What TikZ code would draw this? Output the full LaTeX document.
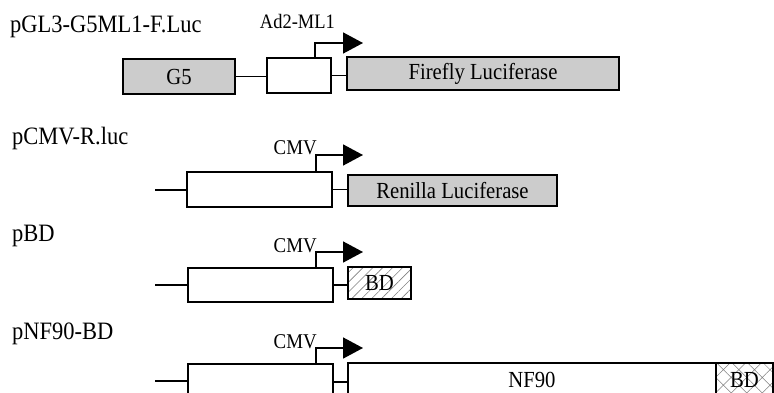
\documentclass[tikz,border=0pt]{standalone}
\usepackage{fontspec}
\setmainfont[FakeStretch=0.9]{Liberation Serif}
\usetikzlibrary{arrows.meta,patterns.meta,calc}
\begin{document}
\begin{tikzpicture}[x=1pt,y=-1pt,
  font=\fontsize{23}{26}\selectfont,
  seg/.style={draw, line width=1.8pt, anchor=north west, inner sep=0pt, outer sep=0pt},
  grayseg/.style={seg, fill=gray!40},
  hatchseg/.style={seg, pattern={Lines[angle=45,distance=7pt,line width=0.6pt]}, pattern color=gray},
  crossseg/.style={seg, pattern={Hatch[angle=45,distance=11pt,line width=0.5pt]}, pattern color=gray},
  link/.style={line width=1.6pt},
  prom/.style={line width=1.6pt, -{Triangle[length=20pt,width=21pt]}},
  lbl/.style={anchor=base west, inner sep=0pt, font=\fontsize{25}{28}\selectfont},
  plbl/.style={anchor=base east, inner sep=0pt, font=\fontsize{21}{24}\selectfont},
]
\useasboundingbox (0,0) rectangle (774,393);
\clip (0,0) rectangle (774,393);

% Row 1
\node[lbl] (n1) at (10,33) {pGL3-G5ML1-F.Luc};
\node[grayseg, minimum width=112pt, minimum height=35pt] (g5) at (123,59) {G5};
\node[seg, minimum width=64pt, minimum height=35pt] (ml) at (267,58) {};
\node[grayseg, minimum width=272pt, minimum height=33pt] (ff) at (347,57) {Firefly Luciferase};
\draw[link] (g5.east) -- (g5.east -| ml.west);
\draw[link] (ml.east) -- (ml.east -| ff.west);
\coordinate (a1) at ($(ml.north west)+(48,0)$);
\coordinate (e1) at (363,43);
\draw[prom] (a1) |- (e1);
\node[plbl, font=\fontsize{20.5}{23}\selectfont] (t1) at (335,29) {Ad2-ML1};

% Row 2
\node[lbl] (n2) at (12,145) {pCMV-R.luc};
\coordinate (s2) at (155,190);
\node[seg, minimum width=145pt, minimum height=35pt] (b2) at (187,172) {};
\node[grayseg, minimum width=209pt, minimum height=31pt] (rl) at (348,175) {Renilla Luciferase};
\draw[link] (s2) -- (s2 -| b2.west);
\draw[link] (b2.east) -- (b2.east -| rl.west);
\coordinate (a2) at ($(b2.north west)+(129,0)$);
\coordinate (e2) at (363,155);
\draw[prom] (a2) |- (e2);
\node[plbl] (c2) at (317,155) {CMV};

% Row 3
\node[lbl] (n3) at (12,241) {pBD};
\coordinate (s3) at (155,285);
\node[seg, minimum width=145pt, minimum height=34pt] (b3) at (188,268) {};
\node[hatchseg, minimum width=63pt, minimum height=32pt] (bd3) at (348,267) {BD};
\draw[link] (s3) -- (s3 -| b3.west);
\draw[link] (b3.east) -- (b3.east -| bd3.west);
\coordinate (a3) at ($(b3.north west)+(128,0)$);
\coordinate (e3) at (363,252);
\draw[prom] (a3) |- (e3);
\node[plbl] (c3) at (317,252) {CMV};

% Row 4
\node[lbl] (n4) at (12,339) {pNF90-BD};
\coordinate (s4) at (155,381);
\node[seg, minimum width=145pt, minimum height=36pt] (b4) at (188,364) {};
\node[seg, minimum width=368pt, minimum height=34pt] (nf) at (348,363) {NF90};
\node[crossseg, minimum width=57pt, minimum height=34pt] (bd4) at (716,363) {BD};
\draw[link] (s4) -- (s4 -| b4.west);
\draw[link] (b4.east) -- (b4.east -| nf.west);
\coordinate (a4) at ($(b4.north west)+(128,0)$);
\coordinate (e4) at (363,348);
\draw[prom] (a4) |- (e4);
\node[plbl] (c4) at (317,348) {CMV};
\end{tikzpicture}
\end{document}
